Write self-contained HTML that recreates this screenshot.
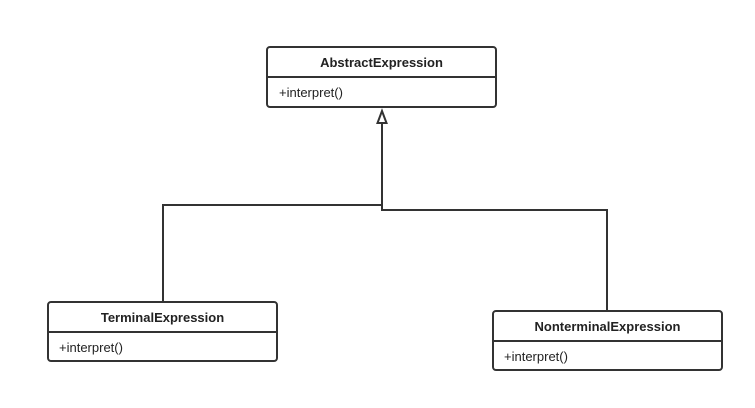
<!DOCTYPE html>
<html><head><style>
body{margin:0;background:#fff;}
svg text{font-family:"Liberation Sans","DejaVu Sans",sans-serif;font-size:13px;fill:#222;}
</style></head><body>
<svg width="755" height="403" xmlns="http://www.w3.org/2000/svg">
<g fill="none" stroke="#333" stroke-width="2">
<rect x="267" y="47" width="229" height="60" rx="3"/>
<line x1="267" y1="77" x2="496" y2="77"/>
<rect x="48" y="302" width="229" height="59" rx="3"/>
<line x1="48" y1="332" x2="277" y2="332"/>
<rect x="493" y="311" width="229" height="59" rx="3"/>
<line x1="493" y1="341" x2="722" y2="341"/>
<polyline points="163,302 163,205 382,205"/>
<polyline points="607,311 607,210 382,210 382,123"/>
<polygon points="382,111 377.5,123 386.5,123" fill="#fff"/>
</g>
<text x="381.5" y="67" text-anchor="middle" font-weight="bold">AbstractExpression</text>
<text x="279" y="97">+interpret()</text>
<text x="162.5" y="322" text-anchor="middle" font-weight="bold">TerminalExpression</text>
<text x="59" y="352">+interpret()</text>
<text x="607.5" y="331" text-anchor="middle" font-weight="bold">NonterminalExpression</text>
<text x="504" y="361">+interpret()</text>
</svg>
</body></html>
